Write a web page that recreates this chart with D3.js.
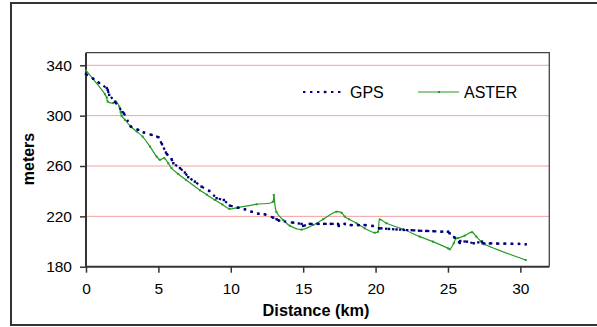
<!DOCTYPE html>
<html><head><meta charset="utf-8">
<script src="https://cdn.jsdelivr.net/npm/d3@7"></script>
<style>body{margin:0;background:#fff}svg{display:block;font-family:"Liberation Sans",Arial,sans-serif}</style>
</head><body><svg id="c" width="597" height="327"></svg>
<script>
const gpsKm = [0,0.5,0.9,1.43,1.5,1.6,2.0,2.53,2.62,3.1,3.6,4.0,4.53,5.0,5.25,5.52,5.59,5.91,6.03,6.49,6.83,7.06,7.52,7.98,8.51,9.02,9.52,9.94,10.5,10.97,11.43,11.89,12.35,12.93,13.16,13.34,14.31,14.89,15.0,15.46,15.99,16.45,16.91,17.41,17.46,17.87,18.29,18.79,19.25,19.79,20.24,20.4,20.93,21.45,21.95,22.5,23.0,23.5,24.0,24.55,25.0,25.12,25.47,25.81,25.85,26.31,26.78,27.35,27.4,27.9,28.4,28.9,29.4,29.9,30.37];
const gpsM = [333,329.3,326,321.9,320.5,316.5,311,302.8,301.7,291.3,288.7,286.6,284.7,282.9,277.3,270.7,269.4,265.4,262.2,258.3,254.8,251.1,247.6,243.6,240.2,234.4,233,228.5,226.9,225.6,223.7,222.1,221.6,219,217.7,216.6,215,214,212.4,214,214,214,214,214,212.4,214,213.1,213.1,213.1,212.4,210.5,210.5,210,209.6,209.2,209,208.6,208.4,208.2,207.8,207.8,206.5,203,199.1,200.4,199.9,198.6,199.9,198.6,198.5,198.4,198.3,198.2,198.1,197.8];
const asterKm = [0,1.31,1.43,1.5,1.88,2.07,2.3,2.39,2.46,2.69,3.04,3.5,3.91,4.42,4.88,5.1,5.4,5.68,5.91,6.37,6.9,7.87,8.35,8.9,9.42,9.9,10.4,11.78,12.9,12.97,13.15,13.62,14.08,14.89,15.69,16.38,17.3,17.65,17.87,18.17,18.68,19.25,19.94,20.17,20.29,20.75,21.9,23.05,23.97,25.0,25.12,25.4,25.55,25.7,26.16,26.66,26.96,27.31,27.54,30.37];
const asterM = [335.9,317,314.4,311.2,310,311.2,307.2,302.8,299.8,296.7,291.9,287.4,283.4,275.4,267.5,264.9,266.2,262.2,258.3,253.7,249,240.7,237.2,233,229.5,226,226.8,229.6,231.5,237,223.5,217.1,212.5,209.5,213.1,217.7,223.7,222.9,219.8,217.7,214.5,210.5,207,207.8,217.5,214.5,209.7,203.9,199.9,194.6,193.8,198.6,202.5,202.8,204.7,207.4,203.9,199.9,197.8,185.3];
const xTicks = [0,5,10,15,20,25,30];
const yTicks = [180,220,260,300,340];
const seriesNames = ["GPS","ASTER"];

const svg = d3.select("#c");
const L=86, R=549.3, T=52.7, B=266.7;
const x = d3.scaleLinear().domain([0,32]).range([L,R]);
const y = d3.scaleLinear().domain([180,350]).range([B,T]);
const FF = "Liberation Sans, Arial, sans-serif";

// outer frame
svg.append("rect").attr("x",11).attr("y",3).attr("width",600).attr("height",322)
  .attr("fill","none").attr("stroke","#333").attr("stroke-width",2);

// gridlines
svg.append("g").selectAll("line").data(yTicks.filter(d=>d>180)).join("line")
  .attr("x1",L).attr("x2",R).attr("y1",d=>y(d)).attr("y2",d=>y(d))
  .attr("stroke","#f4a0a0").attr("stroke-width",1);

// plot border top/right
svg.append("path").attr("d",`M${L},${T}H${R}V${B}`).attr("fill","none").attr("stroke","#444").attr("stroke-width",1.3);

// axes
const ya = svg.append("g").attr("transform",`translate(${L},0)`)
  .call(d3.axisLeft(y).tickValues(yTicks).tickSize(6).tickPadding(8));
const xa = svg.append("g").attr("transform",`translate(0,${B})`)
  .call(d3.axisBottom(x).tickValues(xTicks).tickSize(6).tickPadding(10));
[ya,xa].forEach(a=>{
  a.select(".domain").attr("stroke","#333").attr("stroke-width",2);
  a.selectAll(".tick line").attr("stroke","#333").attr("stroke-width",1.5);
  a.selectAll("text").attr("font-size",15.5).attr("fill","#000").attr("font-family",FF);
});
ya.select(".domain").attr("d",`M0,${T}V${B}`);
xa.select(".domain").attr("d",`M${L},0H${R}`);

// axis titles
svg.append("text").attr("transform",`translate(33.5,159) rotate(-90)`).attr("text-anchor","middle")
  .attr("font-size",16).attr("font-weight","bold").attr("font-family",FF).text("meters");
svg.append("text").attr("x",316).attr("y",316).attr("text-anchor","middle")
  .attr("font-size",16.3).attr("font-weight","bold").attr("font-family",FF).text("Distance (km)");

const gps = gpsKm.map((k,i)=>[k,gpsM[i]]);
const aster = asterKm.map((k,i)=>[k,asterM[i]]);

const green="#259b25", navy="#000080";
svg.append("path").datum(aster)
  .attr("d",d3.line().x(d=>x(d[0])).y(d=>y(d[1])).curve(d3.curveCatmullRom.alpha(0.5)))
  .attr("fill","none").attr("stroke",green).attr("stroke-width",1.2);
svg.append("g").selectAll("rect").data(aster).join("rect")
  .attr("x",d=>x(d[0])-1).attr("y",d=>y(d[1])-1).attr("width",2).attr("height",2).attr("fill",green);

svg.append("path").datum(gps)
  .attr("d",d3.line().x(d=>x(d[0])).y(d=>y(d[1])))
  .attr("fill","none").attr("stroke",navy).attr("stroke-width",2.2).attr("stroke-dasharray","2.4,4.6");
svg.append("g").selectAll("rect").data(gps).join("rect")
  .attr("x",d=>x(d[0])-1.2).attr("y",d=>y(d[1])-1.2).attr("width",2.4).attr("height",2.4).attr("fill",navy);

// legend
const lg = svg.append("g");
lg.append("line").attr("x1",303).attr("x2",343).attr("y1",92).attr("y2",92)
  .attr("stroke",navy).attr("stroke-width",2.2).attr("stroke-dasharray","2.4,4.6");
lg.append("rect").attr("x",325-1.2).attr("y",92-1.2).attr("width",2.4).attr("height",2.4).attr("fill",navy);
lg.append("text").attr("x",350).attr("y",97.5).attr("font-size",16).attr("font-family",FF).text(seriesNames[0]);
lg.append("line").attr("x1",418).attr("x2",459).attr("y1",92).attr("y2",92)
  .attr("stroke",green).attr("stroke-width",1.2);
lg.append("rect").attr("x",438).attr("y",91).attr("width",2).attr("height",2).attr("fill",green);
lg.append("text").attr("x",464).attr("y",97.5).attr("font-size",16).attr("font-family",FF).text(seriesNames[1]);
</script></body></html>
